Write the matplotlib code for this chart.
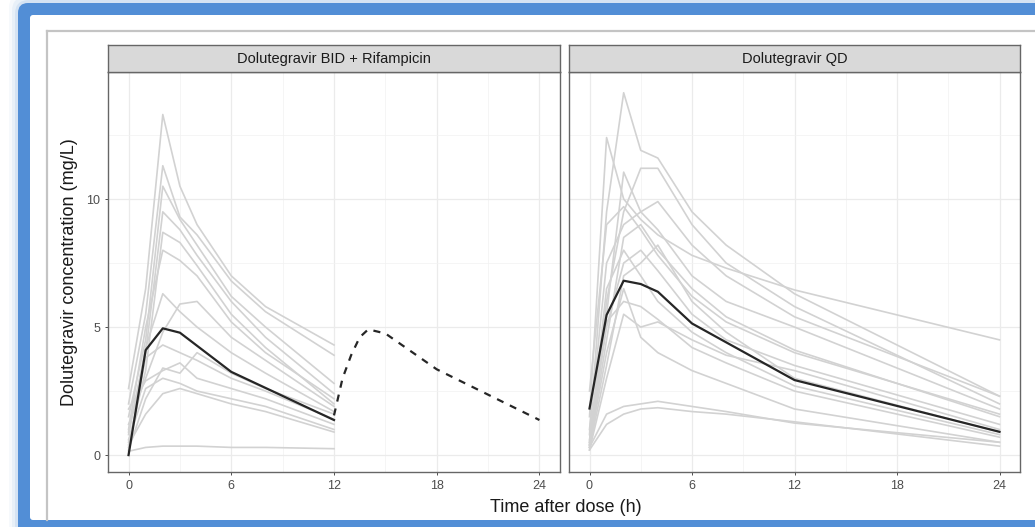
import matplotlib
matplotlib.use("Agg")
import matplotlib.pyplot as plt
from matplotlib.patches import FancyBboxPatch
from matplotlib.lines import Line2D

plt.rcParams['font.family'] = ['Liberation Sans', 'DejaVu Sans']

W, H = 1035, 527

panel_titles = ["Dolutegravir BID + Rifampicin", "Dolutegravir QD"]
x_ticks = [0, 6, 12, 18, 24]
y_ticks = [0, 5, 10]

# BID + rifampicin, individual profiles
bid_times = [0, 1, 2, 3, 4, 6, 8, 12]
bid_subjects = [
    [2.6, 6.5, 13.3, 10.5, 9.0, 7.0, 5.8, 4.3],
    [2.0, 5.5, 11.3, 9.3, 8.6, 6.8, 5.6, 3.9],
    [1.5, 4.5, 10.5, 9.2, 8.2, 6.2, 5.0, 2.8],
    [0.9, 4.0, 9.5, 8.8, 7.8, 6.0, 4.6, 2.4],
    [0.5, 3.3, 8.7, 8.3, 7.4, 5.5, 4.2, 2.0],
    [1.2, 3.0, 4.8, 5.9, 6.0, 4.6, 3.7, 1.9],
    [0.3, 3.8, 4.3, 4.0, 3.7, 3.0, 2.5, 1.4],
    [0.2, 2.2, 3.4, 3.2, 4.0, 3.2, 2.6, 1.6],
    [1.8, 2.9, 3.3, 3.6, 3.0, 2.6, 2.2, 1.2],
    [0.6, 2.6, 3.0, 2.8, 2.5, 2.2, 1.9, 1.0],
    [0.4, 1.6, 2.4, 2.6, 2.4, 2.0, 1.7, 0.9],
    [0.15, 0.3, 0.35, 0.35, 0.35, 0.3, 0.3, 0.25],
    [1.0, 5.0, 8.0, 7.6, 7.0, 5.2, 4.0, 2.2],
    [0.8, 4.2, 6.3, 5.6, 5.0, 4.0, 3.2, 1.7],
]
bid_med_times = [0, 1, 2, 3, 6, 12]
bid_median = [0.0, 4.1, 4.95, 4.78, 3.25, 1.37]
# second dose (predicted), drawn dashed
bid_next_times = [12, 12.5, 13, 13.5, 14, 15, 18, 24]
bid_next = [1.55, 3.0, 3.9, 4.6, 4.91, 4.75, 3.35, 1.37]

# QD, individual profiles
qd_times = [0, 1, 2, 3, 4, 6, 8, 12, 24]
qd_subjects = [
    [0.8, 9.5, 14.15, 11.9, 11.6, 9.5, 8.2, 6.3, 2.3],
    [1.5, 12.4, 10.0, 9.2, 8.6, 7.8, 7.3, 6.45, 4.5],
    [0.5, 6.0, 9.5, 11.2, 11.2, 9.0, 7.5, 5.8, 2.0],
    [0.3, 5.5, 11.05, 9.5, 8.8, 7.0, 6.0, 5.0, 1.8],
    [1.0, 7.5, 9.0, 9.5, 9.9, 8.2, 7.0, 5.4, 2.3],
    [0.4, 4.5, 8.5, 9.0, 8.0, 6.5, 5.4, 4.1, 1.5],
    [0.6, 5.0, 7.5, 8.0, 7.2, 5.5, 4.5, 3.5, 1.2],
    [0.3, 3.5, 7.0, 7.5, 8.2, 6.0, 4.8, 3.0, 0.9],
    [0.5, 6.5, 8.0, 7.0, 6.0, 4.8, 4.0, 2.7, 0.8],
    [0.2, 3.0, 5.5, 5.0, 5.2, 4.5, 3.9, 3.3, 1.0],
    [0.4, 4.0, 6.5, 4.6, 4.0, 3.3, 2.8, 1.8, 0.5],
    [0.3, 1.6, 1.9, 2.0, 2.1, 1.9, 1.7, 1.25, 0.5],
    [0.2, 1.2, 1.6, 1.8, 1.85, 1.7, 1.6, 1.3, 0.35],
    [2.5, 9.0, 9.7, 8.8, 7.8, 6.2, 5.2, 4.0, 1.6],
    [0.4, 5.2, 6.0, 5.8, 5.3, 4.2, 3.6, 2.5, 0.7],
]
qd_med_times = [0, 1, 2, 3, 4, 6, 12, 24]
qd_median = [1.82, 5.47, 6.81, 6.68, 6.38, 5.14, 2.93, 0.91]

fig = plt.figure(figsize=(W / 100, H / 100), dpi=100)


def box(x0, y0, x1, y1, r, **kw):
    # pixel coords, origin top-left
    p = FancyBboxPatch((x0 / 100, (H - y1) / 100), (x1 - x0) / 100, (y1 - y0) / 100,
                       boxstyle=f"round,pad=0,rounding_size={r}",
                       transform=fig.dpi_scale_trans, zorder=-10, **kw)
    fig.add_artist(p)


# blue screenshot frame with a soft glow
for i, a in enumerate([0.05, 0.08, 0.12]):
    d = 9 - 3 * i
    box(18 - d, 3 - d, 1070, 560, 0.14, fc='#4f8bd4', ec='none', alpha=a)
box(18, 3, 1070, 560, 0.1, fc='#528ed6', ec='none')
box(30, 15, 1060, 520, 0.03, fc='white', ec='none')
fig.add_artist(Line2D([47 / W, 1], [1 - 31 / H, 1 - 31 / H], transform=fig.transFigure,
                      color='#c4c4c4', lw=1.6, zorder=-5))
fig.add_artist(Line2D([47 / W, 47 / W], [1 - 31 / H, 1 - 520 / H], transform=fig.transFigure,
                      color='#c4c4c4', lw=1.6, zorder=-5))

panels = [(108, 560), (569, 1020)]
data = [
    (bid_times, bid_subjects, bid_med_times, bid_median),
    (qd_times, qd_subjects, qd_med_times, qd_median),
]

for k, ((x0, x1), (t, subj, mt, med)) in enumerate(zip(panels, data)):
    ax = fig.add_axes([x0 / W, 1 - 472 / H, (x1 - x0) / W, 400 / H])
    for s in subj:
        ax.plot(t, s, color='#d2d2d2', lw=1.2, solid_joinstyle='round', zorder=2)
    ax.plot(mt, med, color='#262626', lw=1.6, zorder=3)
    if k == 0:
        ax.plot(bid_next_times, bid_next, color='#262626', lw=1.6,
                dashes=(3.2, 3.2), zorder=3)

    ax.set_xlim(-1.2, 25.2)
    ax.set_ylim(-0.66, 14.96)
    ax.set_xticks(x_ticks)
    ax.set_xticks([3, 9, 15, 21], minor=True)
    ax.set_yticks(y_ticks)
    ax.set_yticks([2.5, 7.5, 12.5], minor=True)
    ax.grid(which='major', color='#ebebeb', lw=0.9, zorder=0)
    ax.grid(which='minor', color='#f2f2f2', lw=0.5, zorder=0)
    ax.set_axisbelow(True)
    ax.tick_params(which='major', length=2.5, width=0.6, color='#333333',
                   labelsize=9, labelcolor='#4d4d4d', pad=3)
    ax.tick_params(which='minor', length=0)
    if k == 1:
        ax.tick_params(axis='y', labelleft=False, length=0)
    for sp in ax.spines.values():
        sp.set_color('#666666')
        sp.set_linewidth(1.0)

    strip = fig.add_axes([x0 / W, 1 - 72 / H, (x1 - x0) / W, 27 / H])
    strip.set_facecolor('#d9d9d9')
    strip.set_xticks([])
    strip.set_yticks([])
    for sp in strip.spines.values():
        sp.set_color('#666666')
        sp.set_linewidth(1.0)
    strip.text(0.5, 0.5, panel_titles[k], ha='center', va='center',
               fontsize=10.5, color='#1a1a1a', transform=strip.transAxes)

fig.text(70 / W, 1 - 272 / H, "Dolutegravir concentration (mg/L)", rotation=90,
         ha='center', va='center', fontsize=13, color='#1a1a1a')
fig.text(566 / W, 1 - 507 / H, "Time after dose (h)", ha='center', va='center',
         fontsize=13, color='#1a1a1a')

fig.savefig("out.png", dpi=100)
